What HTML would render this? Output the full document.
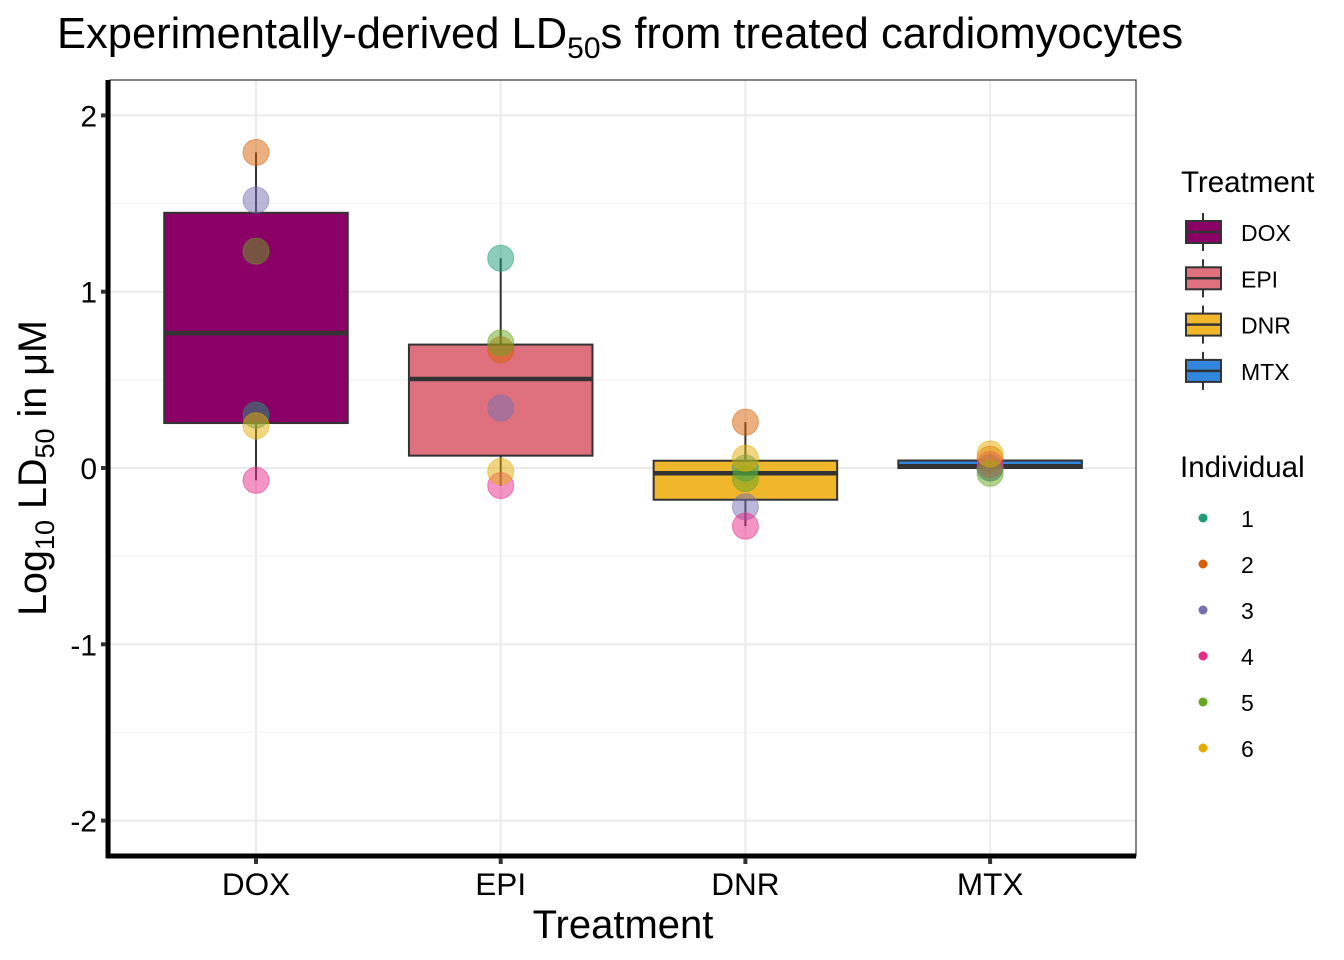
<!DOCTYPE html>
<html><head><meta charset="utf-8"><style>
body{margin:0;background:#fff;}
svg{display:block;font-family:"Liberation Sans",Arial,sans-serif;}
</style></head><body>
<svg id="chart" width="1344" height="960" viewBox="0 0 1344 960">
<text x="57" y="48" font-size="43.5" fill="#000">Experimentally-derived LD<tspan font-size="30" dy="10">50</tspan><tspan dy="-10">s from treated cardiomyocytes</tspan></text>
<g id="grid"></g>
<g id="boxes"></g>
<g id="points"></g>
<g id="axes"></g>
<text transform="translate(46,468) rotate(-90)" text-anchor="middle" font-size="39.5">Log<tspan font-size="27" dy="8">10</tspan><tspan dy="-8"> LD</tspan><tspan font-size="27" dy="8">50</tspan><tspan dy="-8"> in μM</tspan></text>
<text x="623" y="938" text-anchor="middle" font-size="40">Treatment</text>
<g id="legend"></g>
</svg>
<script>
const categories = ["DOX","EPI","DNR","MTX"];
const individuals = ["1","2","3","4","5","6"];
const doxValues = [0.30, 1.79, 1.52, -0.07, 1.23, 0.24];
const epiValues = [1.19, 0.67, 0.34, -0.10, 0.71, -0.02];
const dnrValues = [0.00, 0.26, -0.22, -0.33, -0.06, 0.055];
const mtxValues = [0.00, 0.05, 0.00, 0.02, -0.03, 0.08];
const yTicks = [-2,-1,0,1,2];
const seriesValues = [doxValues, epiValues, dnrValues, mtxValues];
const boxColors = ["#8B0066","#DF707E","#F1B72B","#3386DD"];
const indColors = ["#1B9E77","#D95F02","#7570B3","#E7298A","#66A61E","#E6AB02"];

const NS="http://www.w3.org/2000/svg";
const PL=110, PR=1136, PT=80, PB=856;
function yS(v){return 468 - v*176.3;}
function xS(i){return 256 + i*244.7;}
const bw = 244.7*0.75;
function mk(tag, attrs, parent){const e=document.createElementNS(NS,tag);for(const k in attrs)e.setAttribute(k,attrs[k]);parent.appendChild(e);return e;}
function q(s,p){const h=(s.length-1)*p;const lo=Math.floor(h);return s[lo]+(h-lo)*((s[lo+1]??s[lo])-s[lo]);}

const grid=document.getElementById('grid');
[-1.5,-0.5,0.5,1.5].forEach(v=>{const l=mk('line',{x1:PL,x2:PR,y1:yS(v),y2:yS(v),stroke:'#f2f2f2','stroke-width':1.2},grid);

});
yTicks.forEach(v=>{const l=mk('line',{x1:PL,x2:PR,y1:yS(v),y2:yS(v),stroke:'#ebebeb','stroke-width':2},grid);

});
categories.forEach((c,i)=>{const l=mk('line',{x1:xS(i),x2:xS(i),y1:PT,y2:PB,stroke:'#ebebeb','stroke-width':2},grid);

});

const boxes=document.getElementById('boxes');
categories.forEach((c,i)=>{
  const s=[...seriesValues[i]].sort((a,b)=>a-b);
  const q1=q(s,0.25),med=q(s,0.5),q3=q(s,0.75),iqr=q3-q1;
  const lo=Math.min(...s.filter(v=>v>=q1-1.5*iqr)), hi=Math.max(...s.filter(v=>v<=q3+1.5*iqr));
  const g=mk('g',{},boxes);
  
  
  const x=xS(i);
  mk('line',{x1:x,x2:x,y1:yS(hi),y2:yS(q3),stroke:'#333','stroke-width':2},g);
  mk('line',{x1:x,x2:x,y1:yS(q1),y2:yS(lo),stroke:'#333','stroke-width':2},g);
  mk('rect',{x:x-bw/2,y:yS(q3),width:bw,height:Math.max(yS(q1)-yS(q3),1),fill:boxColors[i],stroke:'#333','stroke-width':2},g);
  mk('line',{x1:x-bw/2,x2:x+bw/2,y1:yS(med),y2:yS(med),stroke:'#333','stroke-width':4.5},g);
});

const pts=document.getElementById('points');
categories.forEach((c,i)=>{seriesValues[i].forEach((v,j)=>{
  const p=mk('circle',{cx:xS(i),cy:yS(v),r:13,fill:indColors[j],'fill-opacity':0.5,stroke:indColors[j],'stroke-opacity':0.5,'stroke-width':1},pts);
  
  
});});

const ax=document.getElementById('axes');
mk('rect',{x:PL,y:PT,width:PR-PL,height:PB-PT,fill:'none',stroke:'#333','stroke-width':1.2},ax);
mk('line',{x1:PL-2,x2:PL-2,y1:PT,y2:PB+2,stroke:'#000','stroke-width':5},ax);
mk('line',{x1:PL-4,x2:PR,y1:PB,y2:PB,stroke:'#000','stroke-width':5},ax);
yTicks.forEach(v=>{
  mk('line',{x1:PL-9,x2:PL-4,y1:yS(v),y2:yS(v),stroke:'#333','stroke-width':4},ax);
  const t=mk('text',{x:PL-13,y:yS(v)+11,'text-anchor':'end','font-size':30,fill:'#000'},ax);
  t.textContent=v;
  
  
});
categories.forEach((c,i)=>{
  mk('line',{x1:xS(i),x2:xS(i),y1:PB+2,y2:PB+8,stroke:'#333','stroke-width':4},ax);
  const t=mk('text',{x:xS(i),y:895,'text-anchor':'middle','font-size':31.5,fill:'#000'},ax);
  t.textContent=c;
  
  
});

const lg=document.getElementById('legend');
let t=mk('text',{x:1181,y:192,'font-size':29.5},lg);t.textContent='Treatment';


categories.forEach((c,i)=>{
  const cy=232+i*46.3;
  const g=mk('g',{},lg);
  
  
  mk('line',{x1:1203,x2:1203,y1:cy-19,y2:cy+19,stroke:'#333','stroke-width':2},g);
  mk('rect',{x:1186,y:cy-11,width:35,height:22,fill:boxColors[i],stroke:'#333','stroke-width':2},g);
  mk('line',{x1:1186,x2:1221,y1:cy,y2:cy,stroke:'#333','stroke-width':2.5},g);
  const tx=mk('text',{x:1241,y:cy+9,'font-size':23},g);tx.textContent=c;
});
t=mk('text',{x:1180,y:477,'font-size':29.5},lg);t.textContent='Individual';


individuals.forEach((d,j)=>{
  const cy=518+j*46;
  const g=mk('g',{},lg);
  
  
  mk('circle',{cx:1203,cy:cy,r:4.5,fill:indColors[j]},g);
  const tx=mk('text',{x:1241,y:cy+9,'font-size':23},g);tx.textContent=d;
});
</script>
</body></html>
